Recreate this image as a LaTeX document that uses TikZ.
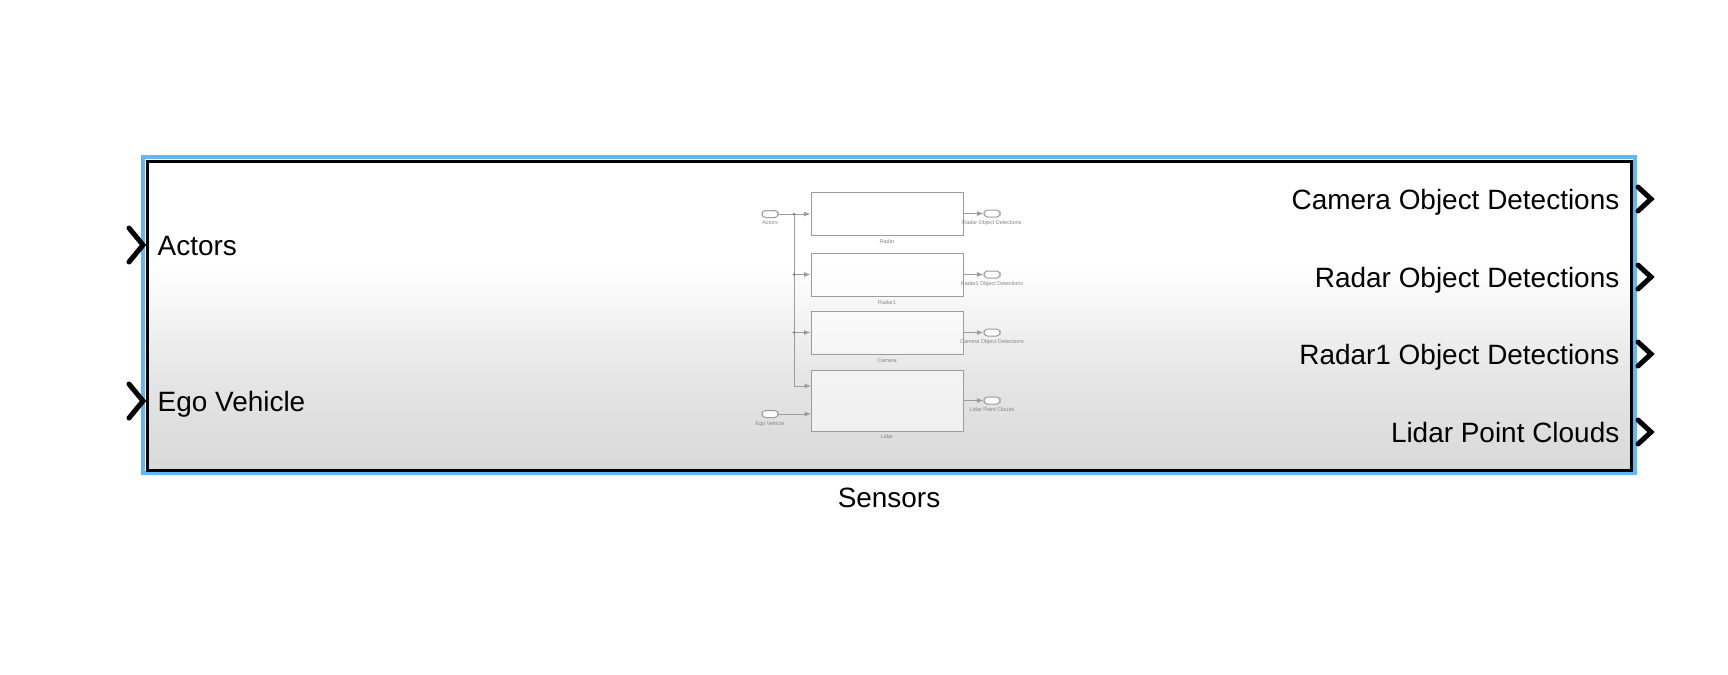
\documentclass[tikz,border=0pt]{standalone}
\usepackage{fontspec}
\setmainfont{Liberation Sans}
\usetikzlibrary{arrows.meta, positioning}
\definecolor{selblue}{HTML}{62B8F4}
\definecolor{lineGray}{HTML}{9C9C9C}
\definecolor{txtGray}{HTML}{858585}
\newcommand{\portfont}{\fontsize{7.95}{9.5}\selectfont}
\newcommand{\tinyfont}{\fontsize{1.55}{1.8}\selectfont}
\pgfdeclareverticalshading{blockshade}{100bp}{color(0bp)=(gray!30); color(25bp)=(gray!30);
  color(40bp)=(gray!20); color(58bp)=(white); color(75bp)=(white); color(100bp)=(white)}
\tikzset{
  port/.style={line width=0.5mm, line cap=round, line join=miter},
  subblock/.style={draw=lineGray, line width=0.1mm, fill=white, fill opacity=0.55,
    text opacity=1, minimum width=15.2mm, inner sep=0pt},
  pill/.style={draw=lineGray, line width=0.1mm, fill=white, rounded corners=0.35mm,
    minimum width=1.6mm, minimum height=0.7mm, inner sep=0pt},
  tinylabel/.style={font=\tinyfont, text=txtGray, text opacity=1, fill opacity=1,
    inner sep=0.1mm},
  sig/.style={draw=lineGray, line width=0.1mm, -{Latex[length=0.65mm, width=0.5mm]}}
}

\begin{document}
\begin{tikzpicture}[x=0.1mm, y=-0.1mm]
  \useasboundingbox (0,0) rectangle (1728,674);
  % subsystem block
  \shade[shading=blockshade] (147,161) rectangle (1631,470);
  \draw[selblue, line width=0.4mm] (143,157) rectangle (1635,473);
  \draw[black, line width=0.3mm] (147,161) rectangle (1631,470);
  \node[font=\portfont, anchor=base, inner sep=0pt] (sensorsName) at (889,507) {Sensors};
  % ports
  \foreach \y/\lab/\nm in {245/Actors/actorsLab, 401/Ego Vehicle/egoLab}
    {\draw[port] (129,\y-17) -- (143,\y) -- (129,\y+17);
     \node[font=\portfont, anchor=base west, inner sep=0pt] (\nm) at (157,\y+10) {\lab};}
  \foreach \y/\lab/\nm in {199/Camera Object Detections/cameraLab,
                           277/Radar Object Detections/radarLab,
                           354/Radar1 Object Detections/radarOneLab,
                           432/Lidar Point Clouds/lidarLab}
    {\draw[port] (1638,\y-12) -- (1651,\y) -- (1638,\y+12);
     \node[font=\portfont, anchor=base east, inner sep=0pt] (\nm) at (1620,\y+10) {\lab};}
  % contents preview
  \node[subblock, minimum height=4.3mm, label={[tinylabel, label distance=0.25mm]below:Radar}]
    (radar) at (887,213.5) {};
  \node[subblock, minimum height=4.3mm, label={[tinylabel, label distance=0.25mm]below:Radar1}]
    (radarOne) at (887,274.5) {};
  \node[subblock, minimum height=4.3mm, label={[tinylabel, label distance=0.25mm]below:Camera}]
    (camera) at (887,332.5) {};
  \node[subblock, minimum height=6.1mm, label={[tinylabel, label distance=0.15mm]below:Lidar}]
    (lidar) at (887,400.5) {};
  \node[pill, label={[tinylabel, label distance=0.15mm]below:Actors}] (actorsIn) at (770,214) {};
  \node[pill, label={[tinylabel, label distance=0.15mm]below:Ego Vehicle}] (egoIn) at (770,414) {};
  \foreach \blk/\nm/\lab in {radar/radarOut/Radar Object Detections,
                            radarOne/radarOneOut/Radar1 Object Detections,
                            camera/cameraOut/Camera Object Detections,
                            lidar/lidarOut/Lidar Point Clouds}
    {\node[pill, label={[tinylabel, label distance=0.15mm]below:\lab}] (\nm)
       at (992,0 |- \blk.east) {};
     \draw[sig] (\blk.east) -- (\nm.west);}
  \coordinate (jTop) at (794,214);
  \coordinate (lidarInA) at (811,386);
  \coordinate (lidarInB) at (811,414);
  \draw[sig] (actorsIn.east) -- (actorsIn.east -| radar.west);
  \draw[sig] (jTop) |- (radarOne.west);
  \draw[sig] (jTop) |- (camera.west);
  \draw[sig] (jTop) |- (lidarInA);
  \draw[sig] (egoIn.east) -- (lidarInB);
  \foreach \c in {jTop, jTop |- radarOne.west, jTop |- camera.west}
    \fill[lineGray!80!black] (\c) circle (0.14mm);
\end{tikzpicture}
\end{document}
